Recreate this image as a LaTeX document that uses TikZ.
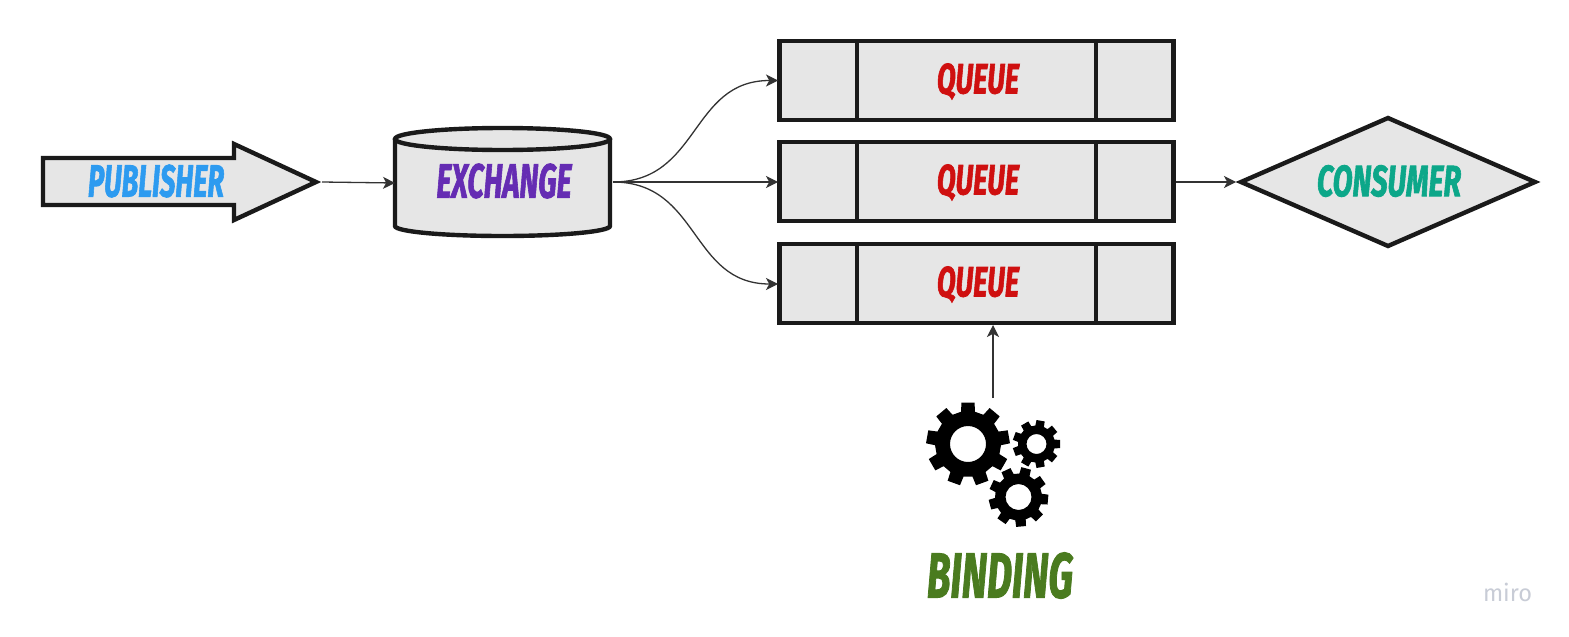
\documentclass[tikz,border=0pt]{standalone}
\usepackage{fontspec}
\usepackage{graphicx}
\setmainfont{Fira Sans}[BoldItalicFeatures={FakeBold=2}]
\usetikzlibrary{arrows.meta}
\definecolor{ink}{HTML}{1A1A1A}
\definecolor{wire}{HTML}{333333}
\definecolor{shade}{HTML}{E6E6E6}
\definecolor{cpub}{HTML}{2D9BF0}
\definecolor{cexc}{HTML}{652CB3}
\definecolor{cque}{HTML}{CF1010}
\definecolor{ccon}{HTML}{0CA789}
\definecolor{cbin}{HTML}{4A7B1F}
\definecolor{cmiro}{HTML}{C8CCD6}
\newcommand{\lbl}[3]{\resizebox{#1pt}{#2pt}{\bfseries\itshape #3}}
% centre x, centre y, outer r, root r, hole r, teeth, half tooth angle outer, start angle
\newcommand{\gearshape}[8]{%
  \begin{scope}[shift={(#1,#2)}]
    \pgfmathsetmacro{\stp}{360/#6}
    \pgfmathsetmacro{\hr}{#7*1.35}
    \fill[black,even odd rule] (#8-\hr:#4)
      \foreach \k in {1,...,#6} {
        \pgfextra{\pgfmathsetmacro{\aa}{#8+(\k-1)*\stp}}
        -- (\aa-\hr:#4) -- (\aa-#7:#3) -- (\aa+#7:#3) -- (\aa+\hr:#4)
      } -- cycle (0,0) circle (#5);
  \end{scope}}
\tikzset{
  x=0.5pt,y=-0.5pt,
  outline/.style={draw=ink,line width=2.2pt,fill=shade,line join=miter},
  wirearrow/.style={draw=wire,line width=0.65pt,-{Stealth[length=6pt,width=6pt,inset=1.6pt]}},
  boxnode/.style={outline,rectangle,minimum width=197pt,minimum height=39.5pt,inner sep=0pt},
  textnode/.style={inner sep=0pt,outer sep=0pt},
}
\begin{document}
\begin{tikzpicture}
\useasboundingbox (0,0) rectangle (1569,637);
\fill[white] (0,0) rectangle (1569,637);

% publisher
\draw[outline] (43,158) -- (234,158) -- (234,144) -- (316,182) -- (234,220) -- (234,205) -- (43,205) -- cycle;
\node[textnode] (pub) at (156,181) {\textcolor{cpub}{\lbl{68}{16}{PUBLISHER}}};
\coordinate (pubtip) at (322,182);

% exchange
\draw[outline] (395,139) -- (395,226) arc[start angle=180,end angle=0,x radius=107.5,y radius=10] -- (610,139);
\draw[outline] (502.5,139) ellipse [x radius=107.5,y radius=11];
\node[textnode] (exc) at (504,181) {\textcolor{cexc}{\lbl{67.5}{17}{EXCHANGE}}};
\coordinate (excin) at (395,183);
\coordinate (excout) at (613,182);

% queues
\foreach \nm/\yy in {q1/80.5,q2/181.5,q3/283.5} {
  \node[boxnode] (\nm) at (976.5,\yy) {};
  \draw[ink,line width=2.2pt] (857,\yy-39.5) -- (857,\yy+39.5) (1096,\yy-39.5) -- (1096,\yy+39.5);
  \node[textnode] (\nm t) at (978,\yy+1) {\textcolor{cque}{\lbl{41}{15}{QUEUE}}};
}
\coordinate (q1in) at (778,80.5);
\coordinate (q2in) at (778,182);
\coordinate (q3in) at (778,284);
\coordinate (q2out) at (1176,182);

% consumer
\draw[outline] (1241,182) -- (1388,118) -- (1535,182) -- (1388,246) -- cycle;
\node[textnode] (con) at (1389,181) {\textcolor{ccon}{\lbl{72}{15.5}{CONSUMER}}};
\coordinate (conin) at (1236,182);

% gears
\gearshape{968}{444}{42}{33}{18}{9}{9}{-90}
\gearshape{1036.5}{444}{24}{18.5}{10}{9}{10}{-80}
\gearshape{1018.5}{497}{30}{23.5}{13}{9}{9.5}{-75}
\coordinate (gearout) at (993,398);
\coordinate (q3under) at (993,325);

\node[textnode] (bin) at (1000,575.5) {\textcolor{cbin}{\lbl{73}{22.5}{BINDING}}};
\node[textnode] (miro) at (1507.5,592) {\textcolor{cmiro}{\resizebox{24.5pt}{!}{miro}}};

% connectors
\draw[wirearrow] (pubtip) -- (excin);
\draw[wirearrow] (excout) .. controls (700,182) and (690,80.5) .. (q1in);
\draw[wirearrow] (excout) -- (q2in);
\draw[wirearrow] (excout) .. controls (700,182) and (690,284) .. (q3in);
\draw[wirearrow] (q2out) -- (conin);
\draw[wirearrow] (gearout) -- (q3under);
\end{tikzpicture}
\end{document}
